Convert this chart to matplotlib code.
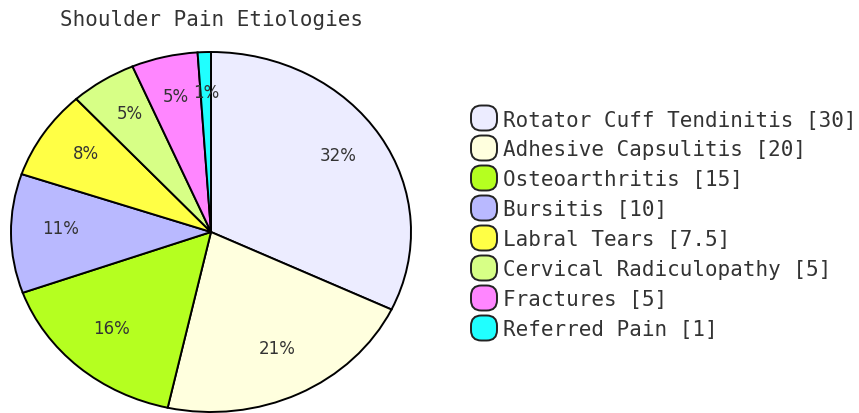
import matplotlib
matplotlib.use("Agg")
import matplotlib.pyplot as plt
from matplotlib.patches import FancyBboxPatch

title = "Shoulder Pain Etiologies"
categories = ["Rotator Cuff Tendinitis", "Adhesive Capsulitis", "Osteoarthritis",
              "Bursitis", "Labral Tears", "Cervical Radiculopathy", "Fractures",
              "Referred Pain"]
values = [30, 20, 15, 10, 7.5, 5, 5, 1]
colors = ["#ececff", "#ffffde", "#b5ff20", "#b9b9ff", "#ffff45", "#d7ff86",
          "#ff86ff", "#20ffff"]

W, H = 859, 414
fig = plt.figure(figsize=(W / 100, H / 100), dpi=100)

# pie area in pixels: left 11, right 411, top 53, bottom 413
L, R, T, B = 11, 411, 53, 413
ax = fig.add_axes([L / W, (H - B) / H, (R - L) / W, (B - T) / H])

def fmt(v):
    return ("%g" % v)

wedges, texts, autotexts = ax.pie(
    values, colors=colors, startangle=90, counterclock=False,
    autopct=lambda p: f"{p:.0f}%", pctdistance=0.75,
    wedgeprops=dict(edgecolor="#000000", linewidth=1.4),
    textprops=dict(fontsize=12, color="#333333", family="DejaVu Sans"),
)
for t in autotexts:
    t.set_va("baseline")
ax.set_aspect("auto")
ax.set_xlim(-1, 1)
ax.set_ylim(-1, 1)
ax.axis("off")

mono = "DejaVu Sans Mono"
fig.text(212 / W, 1 - 26 / H, title, ha="center", va="baseline",
         fontsize=15, family=mono, color="#333333")

row0 = 119
step = 30
box_w, box_h = 26, 25
box_x = 471
for i, (c, v, col) in enumerate(zip(categories, values, colors)):
    cy = row0 + i * step
    x0 = box_x / W
    y0 = 1 - (cy + box_h / 2) / H
    patch = FancyBboxPatch((x0, y0), box_w / W, box_h / H,
                           boxstyle="round,pad=0,rounding_size=0.012",
                           transform=fig.transFigure, facecolor=col,
                           edgecolor="#222222", linewidth=1.4,
                           mutation_aspect=W / H)
    fig.patches.append(patch)
    fig.text(503 / W, 1 - (cy + 7.5) / H, f"{c} [{fmt(v)}]", ha="left",
             va="baseline", fontsize=15, family=mono, color="#333333")

fig.savefig("out.png", dpi=100)
